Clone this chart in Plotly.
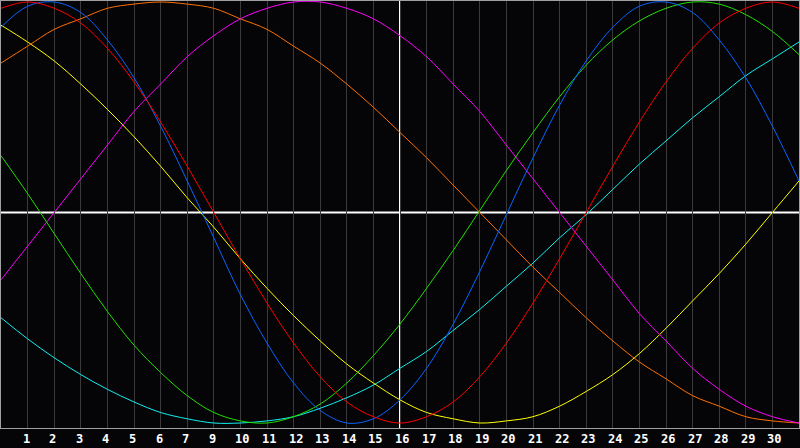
import plotly.graph_objects as go

# day positions (left edge = 0, right edge = 30)
days = list(range(0, 31))

# tick positions and labels (note: "8" is absent in the original)
tick_pos = list(range(1, 30))
tick_labels = ["1", "2", "3", "4", "5", "6", "7", "9", "10", "11", "12", "13", "14", "15",
               "16", "17", "18", "19", "20", "21", "22", "23", "24", "25", "26", "27",
               "28", "29", "30"]

red = [0.97, 1.0, 0.97, 0.90, 0.78, 0.62, 0.43, 0.22, 0.0, -0.22, -0.43, -0.62, -0.78, -0.90,
       -0.97, -1.0, -0.97, -0.90, -0.78, -0.62, -0.43, -0.22, 0.0, 0.22, 0.43, 0.62, 0.78,
       0.90, 0.97, 1.0, 0.97]
blue = [0.88, 0.98, 1.0, 0.95, 0.82, 0.64, 0.41, 0.15, -0.12, -0.39, -0.62, -0.81, -0.94,
        -1.0, -0.98, -0.89, -0.74, -0.53, -0.28, -0.01, 0.26, 0.51, 0.72, 0.88, 0.98, 1.0,
        0.95, 0.82, 0.64, 0.41, 0.15]
green = [0.27, 0.09, -0.10, -0.29, -0.47, -0.63, -0.76, -0.87, -0.95, -0.99, -1.0, -0.97,
         -0.91, -0.81, -0.68, -0.53, -0.36, -0.18, 0.01, 0.20, 0.38, 0.55, 0.70, 0.82, 0.91,
         0.97, 1.0, 0.99, 0.94, 0.86, 0.75]
magenta = [-0.32, -0.16, 0.0, 0.16, 0.32, 0.48, 0.61, 0.74, 0.84, 0.92, 0.97, 1.0, 1.0, 0.97,
           0.92, 0.84, 0.74, 0.61, 0.48, 0.32, 0.16, 0.0, -0.16, -0.32, -0.48, -0.61, -0.74,
           -0.84, -0.92, -0.97, -1.0]
orange = [0.71, 0.79, 0.87, 0.92, 0.97, 0.99, 1.0, 0.99, 0.97, 0.92, 0.87, 0.79, 0.71, 0.61,
          0.50, 0.38, 0.26, 0.13, 0.0, -0.13, -0.26, -0.38, -0.50, -0.61, -0.71, -0.79,
          -0.87, -0.92, -0.97, -0.99, -1.0]
yellow = [0.89, 0.81, 0.72, 0.61, 0.49, 0.36, 0.22, 0.07, -0.07, -0.22, -0.36, -0.49, -0.61,
          -0.72, -0.81, -0.89, -0.95, -0.98, -1.0, -0.99, -0.97, -0.92, -0.85, -0.77, -0.67,
          -0.55, -0.42, -0.29, -0.15, 0.0, 0.15]
cyan = [-0.50, -0.60, -0.69, -0.77, -0.84, -0.90, -0.95, -0.98, -1.0, -1.0, -0.99, -0.97,
        -0.93, -0.88, -0.82, -0.74, -0.66, -0.56, -0.46, -0.35, -0.24, -0.12, -0.01, 0.11,
        0.23, 0.34, 0.45, 0.55, 0.65, 0.73, 0.81]

series = [
    (cyan, "#10f0f0"),
    (yellow, "#ffff00"),
    (orange, "#ff7000"),
    (magenta, "#ff00ff"),
    (green, "#22e000"),
    (blue, "#0a64ff"),
    (red, "#ff0000"),
]

fig = go.Figure()
for vals, col in series:
    fig.add_trace(go.Scatter(x=days, y=vals, mode="lines",
                             line=dict(color=col, width=1, shape="spline", smoothing=1.0),
                             hoverinfo="skip", showlegend=False))

# center cross lines
fig.add_shape(type="line", xref="x", yref="paper", x0=15, x1=15, y0=0, y1=1,
              line=dict(color="white", width=2), layer="below")
fig.add_shape(type="line", xref="paper", yref="y", x0=0, x1=1, y0=0, y1=0,
              line=dict(color="white", width=2), layer="below")

for p, lab in zip(tick_pos, tick_labels):
    fig.add_annotation(x=p, y=0, xref="x", yref="paper", text="<b>" + lab + "</b>",
                       showarrow=False, xanchor="left", yanchor="middle",
                       xshift=-7, yshift=-11,
                       font=dict(family="DejaVu Sans Mono", size=12, color="white"))

fig.update_layout(
    width=800, height=448,
    margin=dict(l=1, r=1, t=1, b=20),
    paper_bgcolor="#050507",
    plot_bgcolor="#050507",
    showlegend=False,
    xaxis=dict(range=[0, 30], tickvals=tick_pos, showticklabels=False, ticks="",
               showgrid=True, gridcolor="#3a3a3a", gridwidth=1, zeroline=False,
               showline=True, mirror=True, linecolor="#a0a0a0", linewidth=1, fixedrange=True),
    yaxis=dict(range=[-1.02375, 1.00475], showticklabels=False, ticks="", showgrid=False,
               zeroline=False, showline=True, mirror=True, linecolor="#a0a0a0", linewidth=1,
               fixedrange=True),
)

fig.write_html("out.html", config={"displayModeBar": False},
               post_script="document.body.style.margin='0';document.body.style.padding='0';"
                           "document.body.style.overflow='hidden';"
                           "document.body.style.background='#050507';")
